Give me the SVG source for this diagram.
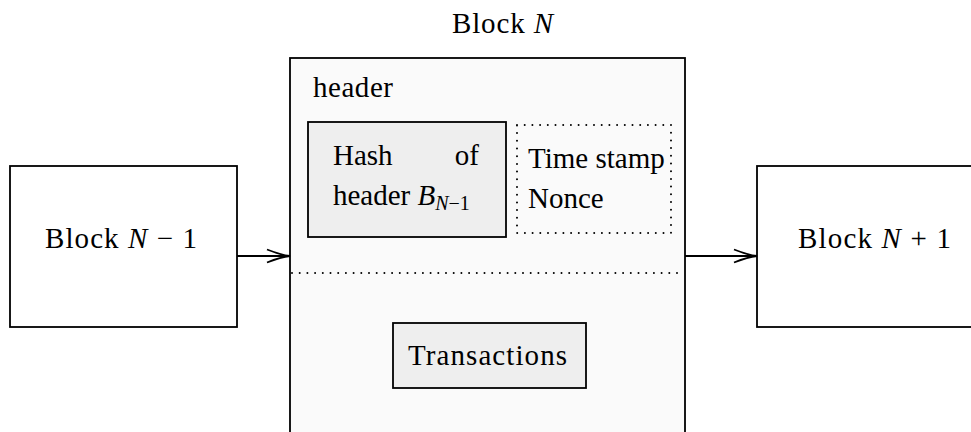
<svg xmlns="http://www.w3.org/2000/svg" width="971" height="432" viewBox="0 0 971 432">
<defs>
<style>
text{font-family:"Liberation Serif","DejaVu Serif",serif;fill:#000;font-size:29px}
.it{font-style:italic}
.box{stroke:#000;stroke-width:1.8}
.dot{fill:none;stroke:#000;stroke-width:2;stroke-dasharray:0 7.7;stroke-linecap:round}
.edge{fill:none;stroke:#000;stroke-width:1.8}
</style>
<marker id="arr" viewBox="0 0 26 16" refX="24" refY="8" markerWidth="26" markerHeight="16" markerUnits="userSpaceOnUse" orient="auto">
<path d="M1,1.5 Q15,7 24,8 Q15,9 1,14.5" fill="none" stroke="#000" stroke-width="1.8"/>
</marker>
</defs>
<rect width="971" height="432" fill="#fff"/>
<g id="blockN">
<text x="452" y="33" textLength="101">Block <tspan class="it">N</tspan></text>
<rect class="box" x="290" y="58" width="395" height="390" fill="#fafafa"/>
<text x="313" y="97" textLength="80">header</text>
<line class="dot" x1="292" y1="273" x2="684" y2="273"/>
</g>
<g id="hash">
<rect class="box" x="308" y="122" width="198" height="115" fill="#eeeeee"/>
<text x="333" y="165">Hash</text>
<text x="479" y="165" text-anchor="end">of</text>
<text x="333" y="205">header <tspan class="it">B</tspan><tspan class="it" font-size="20" dy="5">N</tspan><tspan font-size="20">−1</tspan></text>
</g>
<g id="timestamp">
<rect class="dot" x="517" y="125" width="154" height="108"/>
<text x="528" y="168" font-size="22">Time stamp</text>
<text x="528" y="208" font-size="22">Nonce</text>
</g>
<g id="transactions">
<rect class="box" x="393" y="323" width="193" height="65" fill="#eeeeee"/>
<text x="408" y="365" font-size="31" textLength="159">Transactions</text>
</g>
<g id="blockNm1">
<rect class="box" x="10" y="166" width="227" height="161" fill="#fff"/>
<text x="45" y="248" font-size="31" textLength="152">Block <tspan class="it">N</tspan> − 1</text>
</g>
<g id="blockNp1">
<rect class="box" x="757" y="166" width="230" height="161" fill="#fff"/>
<text x="798" y="248" font-size="31" textLength="153">Block <tspan class="it">N</tspan> + 1</text>
</g>
<g id="connectors">
<line class="edge" x1="237" y1="256" x2="290" y2="256" marker-end="url(#arr)"/>
<line class="edge" x1="685" y1="256" x2="757" y2="256" marker-end="url(#arr)"/>
</g>
</svg>
